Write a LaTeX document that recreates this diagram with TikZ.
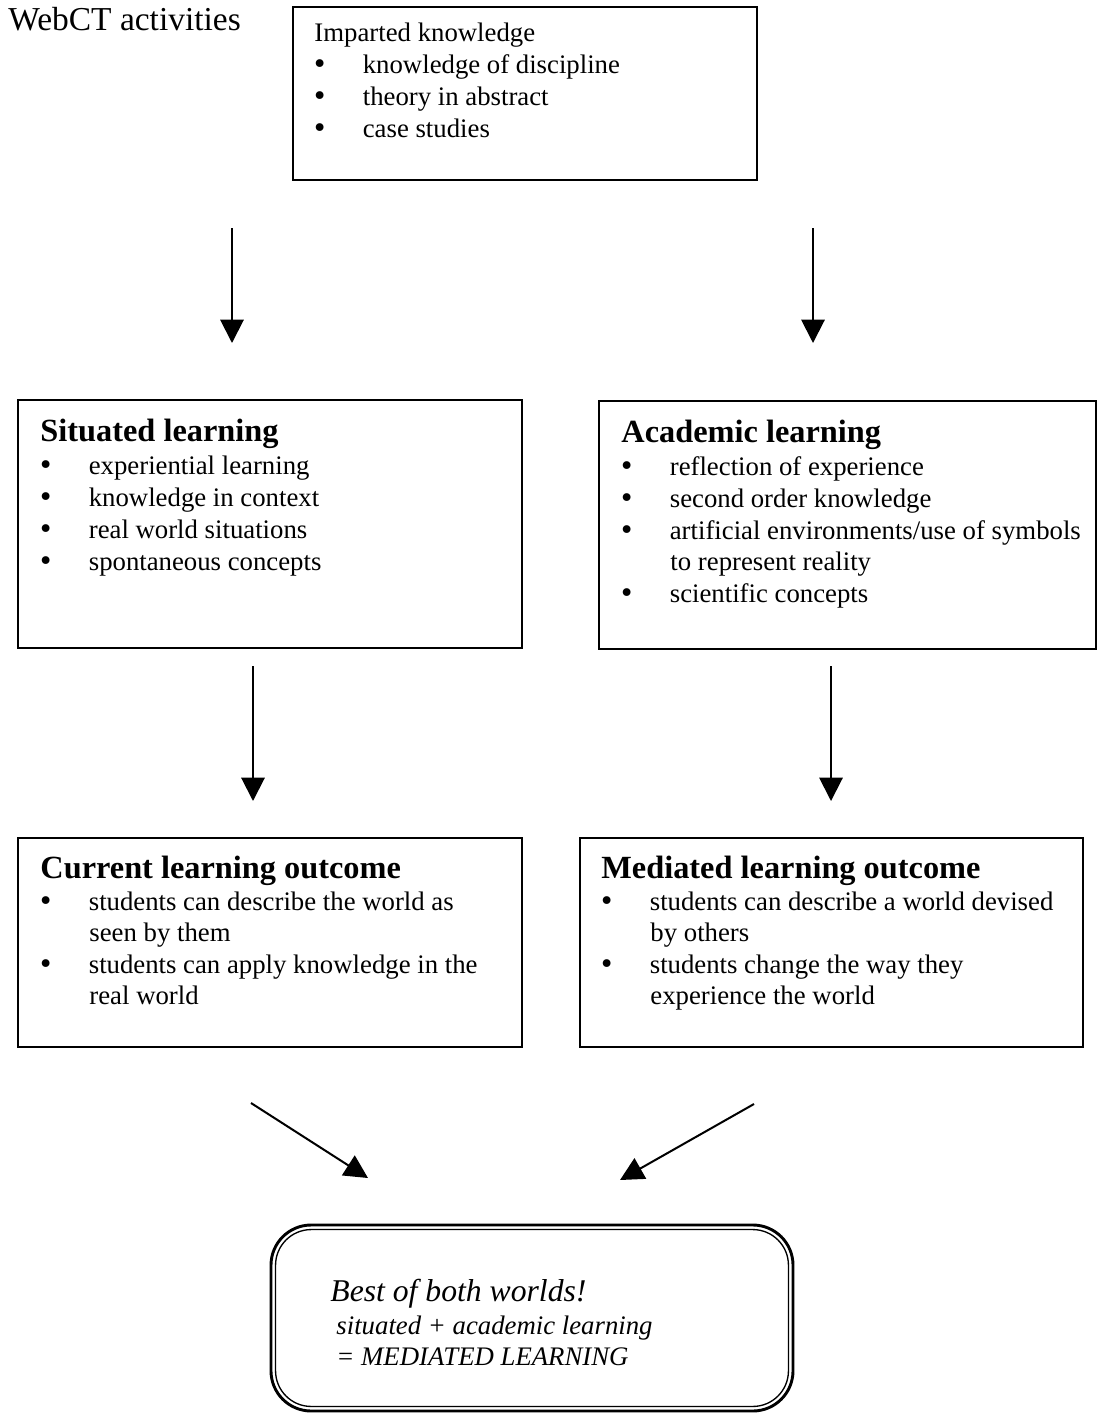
\documentclass[tikz,border=0pt]{standalone}
\usepackage{fontspec}
\setmainfont{Liberation Serif}
\newfontfamily\bulletfont{DejaVu Sans}
\usetikzlibrary{arrows.meta,fit}
\newcommand\bul{\makebox[21.7pt][l]{{\bulletfont\fontsize{12}{14}\selectfont\hspace{-1.2pt}•}}}
\begin{document}
\begin{tikzpicture}[x=0.4484pt,y=-0.4484pt,
  box/.style={draw,line width=0.9pt,inner sep=0pt},
  txt/.style={anchor=base west,inner sep=0pt,font=\fontsize{12}{14}\selectfont},
  head/.style={anchor=base west,inner sep=0pt,font=\fontsize{14.5}{16}\selectfont\bfseries},
  flow/.style={line width=0.9pt,-{Triangle[width=10.5pt,length=10.5pt]}}]
\useasboundingbox (0,0) rectangle (1097,1414);

% title
\node[anchor=base west,inner sep=0pt,font=\fontsize{15}{17}\selectfont] (title) at (8,31) {WebCT activities};

% imparted knowledge
\node[box,fit={(293,7) (757,180)}] (imp) {};
\node[txt] (imp0) at (314,42) {Imparted knowledge};
\node[txt] (imp1) at (314,74) {\bul knowledge of discipline};
\node[txt] (imp2) at (314,106) {\bul theory in abstract};
\node[txt] (imp3) at (314,138) {\bul case studies};

% situated learning
\node[box,fit={(18,400) (522,648)}] (sit) {};
\node[head] (sit0) at (40,441) {Situated learning};
\node[txt] (sit1) at (40,474) {\bul experiential learning};
\node[txt] (sit2) at (40,506) {\bul knowledge in context};
\node[txt] (sit3) at (40,538) {\bul real world situations};
\node[txt] (sit4) at (40,570) {\bul spontaneous concepts};

% academic learning
\node[box,fit={(599,401) (1096,649)}] (aca) {};
\node[head] (aca0) at (621,442) {Academic learning};
\node[txt] (aca1) at (621,475) {\bul reflection of experience};
\node[txt] (aca2) at (621,507) {\bul second order knowledge};
\node[txt] (aca3) at (621,539) {\bul artificial environments/use of symbols};
\node[txt] (aca3b) at (670,570) {to represent reality};
\node[txt] (aca4) at (621,602) {\bul scientific concepts};

% current learning outcome
\node[box,fit={(18,838) (522,1047)}] (cur) {};
\node[head] (cur0) at (40,878) {Current learning outcome};
\node[txt] (cur1) at (40,910) {\bul students can describe the world as};
\node[txt] (cur1b) at (89,941) {seen by them};
\node[txt] (cur2) at (40,973) {\bul students can apply knowledge in the};
\node[txt] (cur2b) at (89,1004) {real world};

% mediated learning outcome
\node[box,fit={(580,838) (1083,1047)}] (med) {};
\node[head] (med0) at (601,878) {Mediated learning outcome};
\node[txt] (med1) at (601,910) {\bul students can describe a world devised};
\node[txt] (med1b) at (650,941) {by others};
\node[txt] (med2) at (601,973) {\bul students change the way they};
\node[txt] (med2b) at (650,1004) {experience the world};

% result
\node[draw,line width=1.3pt,rounded corners=18pt,inner sep=0pt,fit={(271,1225) (793,1411)}] (best) {};
\draw[line width=0.6pt,rounded corners=16pt] ([shift={(6,6)}]best.north west) rectangle ([shift={(-6,-6)}]best.south east);
\node[anchor=base west,inner sep=0pt,font=\fontsize{14.2}{16}\selectfont\itshape] (best0) at (330,1301) {Best of both worlds!};
\node[anchor=base west,inner sep=0pt,font=\fontsize{12}{14}\selectfont\itshape] (best1) at (336,1334) {situated + academic learning};
\node[anchor=base west,inner sep=0pt,font=\fontsize{12}{14}\selectfont\itshape] (best2) at (336,1365) {= MEDIATED LEARNING};

% connectors
\coordinate (a1s) at (232,228); \coordinate (a1e) at (232,343);
\coordinate (a2s) at (813,228); \coordinate (a2e) at (813,343);
\coordinate (a3s) at (253,666); \coordinate (a3e) at (253,801);
\coordinate (a4s) at (831,666); \coordinate (a4e) at (831,801);
\coordinate (a5s) at (251,1103); \coordinate (a5e) at (368,1178);
\coordinate (a6s) at (754,1104); \coordinate (a6e) at (620,1180);
\draw[flow] (a1s) -- (a1e);
\draw[flow] (a2s) -- (a2e);
\draw[flow] (a3s) -- (a3e);
\draw[flow] (a4s) -- (a4e);
\draw[flow] (a5s) -- (a5e);
\draw[flow] (a6s) -- (a6e);
\end{tikzpicture}
\end{document}
